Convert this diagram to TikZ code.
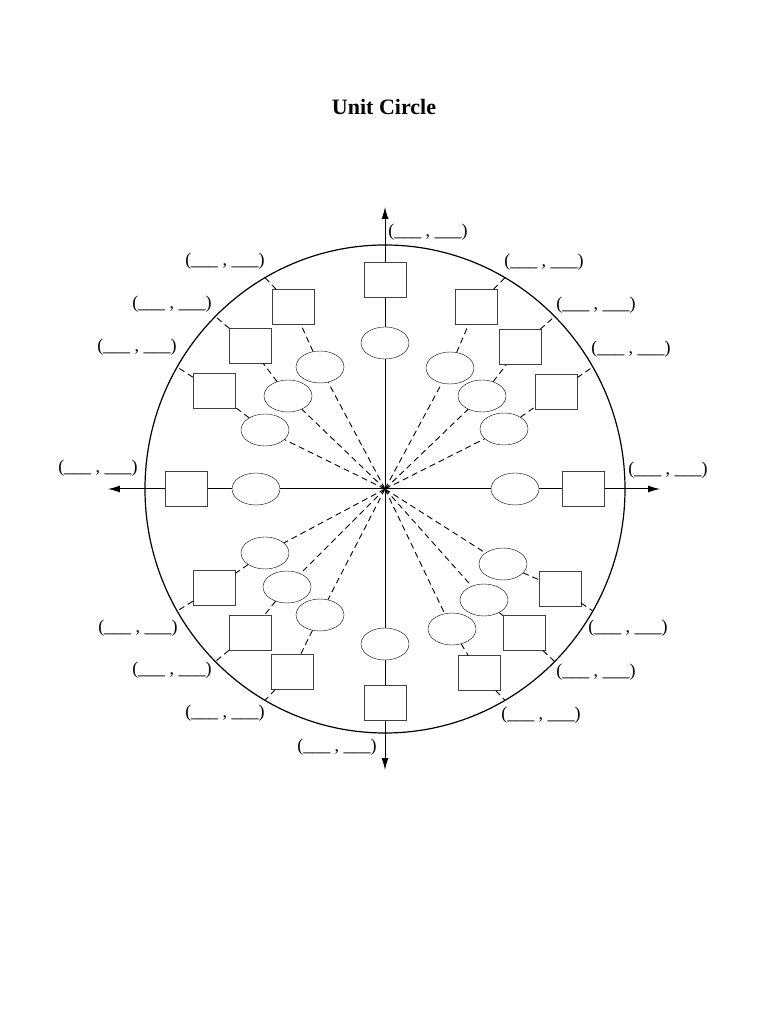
\documentclass[tikz,border=0pt]{standalone}
\usepackage{fontspec}
\setmainfont{Liberation Serif}
\usetikzlibrary{arrows.meta,shapes.geometric}
\tikzset{degEllipse/.style={ellipse,draw=black,fill=white,minimum width=48pt,minimum height=32pt,inner sep=0pt}}
\tikzset{radBox/.style={rectangle,draw=black!75,fill=white,minimum width=42pt,minimum height=35pt,inner sep=0pt}}
\tikzset{coordPair/.style={inner sep=0pt,font=\fontsize{18}{18}\selectfont}}
\tikzset{spoke/.style={dashed,dash pattern=on 6pt off 4pt,line width=0.9pt}}
\tikzset{axisArrow/.style={{Latex[length=12pt,width=7pt]}-{Latex[length=12pt,width=7pt]},line width=1pt}}

\begin{document}
\begin{tikzpicture}[x=1pt,y=1pt]
\useasboundingbox (-385,-535) rectangle (383,489);
\node (title) at (-1,382) {\fontsize{22}{22}\selectfont\bfseries Unit Circle};
\coordinate (O) at (0,0);
% axes and circle
\coordinate (xLeft) at (-277,0);
\coordinate (xRight) at (275,0);
\coordinate (yTop) at (0,282);
\coordinate (yBottom) at (0,-281);
\draw[axisArrow] (xLeft) -- (xRight);
\draw[axisArrow] (yBottom) -- (yTop);
\draw[line width=1.2pt] (O) ellipse [x radius=240, y radius=244];
% points on the circle
\coordinate (p30) at (30:240 and 244);
\coordinate (p45) at (45:240 and 244);
\coordinate (p60) at (60:240 and 244);
\coordinate (p120) at (120:240 and 244);
\coordinate (p135) at (135:240 and 244);
\coordinate (p150) at (150:240 and 244);
\coordinate (p210) at (210:240 and 244);
\coordinate (p225) at (225:240 and 244);
\coordinate (p240) at (240:240 and 244);
\coordinate (p300) at (300:240 and 244);
\coordinate (p315) at (315:240 and 244);
\coordinate (p330) at (330:240 and 244);
% degree ellipses
\node (e0) [degEllipse] at (130,0) {};
\node (e30) [degEllipse] at (119,60) {};
\node (e45) [degEllipse] at (97,93) {};
\node (e60) [degEllipse] at (65,121) {};
\node (e90) [degEllipse] at (0,146) {};
\node (e120) [degEllipse] at (-65,122) {};
\node (e135) [degEllipse] at (-97,93) {};
\node (e150) [degEllipse] at (-120,59) {};
\node (e180) [degEllipse] at (-129,0) {};
\node (e210) [degEllipse] at (-120,-64) {};
\node (e225) [degEllipse] at (-98,-98) {};
\node (e240) [degEllipse] at (-65,-126) {};
\node (e270) [degEllipse] at (0,-155) {};
\node (e300) [degEllipse] at (67,-140) {};
\node (e315) [degEllipse] at (99,-111) {};
\node (e330) [degEllipse] at (118,-75) {};
% radian boxes
\node (b0) [radBox] at (198,0) {};
\node (b30) [radBox] at (171,97) {};
\node (b45) [radBox] at (135,142) {};
\node (b60) [radBox] at (91,182) {};
\node (b90) [radBox] at (0,209) {};
\node (b120) [radBox] at (-92,182) {};
\node (b135) [radBox] at (-135,143) {};
\node (b150) [radBox] at (-171,98) {};
\node (b180) [radBox] at (-199,0) {};
\node (b210) [radBox] at (-171,-99) {};
\node (b225) [radBox] at (-135,-144) {};
\node (b240) [radBox] at (-93,-183) {};
\node (b270) [radBox] at (0,-214) {};
\node (b300) [radBox] at (94,-184) {};
\node (b315) [radBox] at (139,-144) {};
\node (b330) [radBox] at (175,-100) {};
% dashed spokes
\draw[spoke] (O) -- (e30) (e30) -- (b30) (b30) -- (p30);
\draw[spoke] (O) -- (e45) (e45) -- (b45) (b45) -- (p45);
\draw[spoke] (O) -- (e60) (e60) -- (b60) (b60) -- (p60);
\draw[spoke] (O) -- (e120) (e120) -- (b120) (b120) -- (p120);
\draw[spoke] (O) -- (e135) (e135) -- (b135) (b135) -- (p135);
\draw[spoke] (O) -- (e150) (e150) -- (b150) (b150) -- (p150);
\draw[spoke] (O) -- (e210) (e210) -- (b210) (b210) -- (p210);
\draw[spoke] (O) -- (e225) (e225) -- (b225) (b225) -- (p225);
\draw[spoke] (O) -- (e240) (e240) -- (b240) (b240) -- (p240);
\draw[spoke] (O) -- (e300) (e300) -- (b300) (b300) -- (p300);
\draw[spoke] (O) -- (e315) (e315) -- (b315) (b315) -- (p315);
\draw[spoke] (O) -- (e330) (e330) -- (b330) (b330) -- (p330);
% coordinate pairs
\node (l0) [coordPair] at (283,19) {(\_\_\_ , \_\_\_)};
\node (l30) [coordPair] at (246,140) {(\_\_\_ , \_\_\_)};
\node (l45) [coordPair] at (211,184) {(\_\_\_ , \_\_\_)};
\node (l60) [coordPair] at (159,227) {(\_\_\_ , \_\_\_)};
\node (l90) [coordPair] at (43,257) {(\_\_\_ , \_\_\_)};
\node (l120) [coordPair] at (-160,228) {(\_\_\_ , \_\_\_)};
\node (l135) [coordPair] at (-213,185) {(\_\_\_ , \_\_\_)};
\node (l150) [coordPair] at (-248,142) {(\_\_\_ , \_\_\_)};
\node (l180) [coordPair] at (-287,21) {(\_\_\_ , \_\_\_)};
\node (l210) [coordPair] at (-247,-139) {(\_\_\_ , \_\_\_)};
\node (l225) [coordPair] at (-213,-181) {(\_\_\_ , \_\_\_)};
\node (l240) [coordPair] at (-160,-224) {(\_\_\_ , \_\_\_)};
\node (l270) [coordPair] at (-48,-258) {(\_\_\_ , \_\_\_)};
\node (l300) [coordPair] at (156,-226) {(\_\_\_ , \_\_\_)};
\node (l315) [coordPair] at (211,-183) {(\_\_\_ , \_\_\_)};
\node (l330) [coordPair] at (243,-139) {(\_\_\_ , \_\_\_)};
\end{tikzpicture}
\end{document}
